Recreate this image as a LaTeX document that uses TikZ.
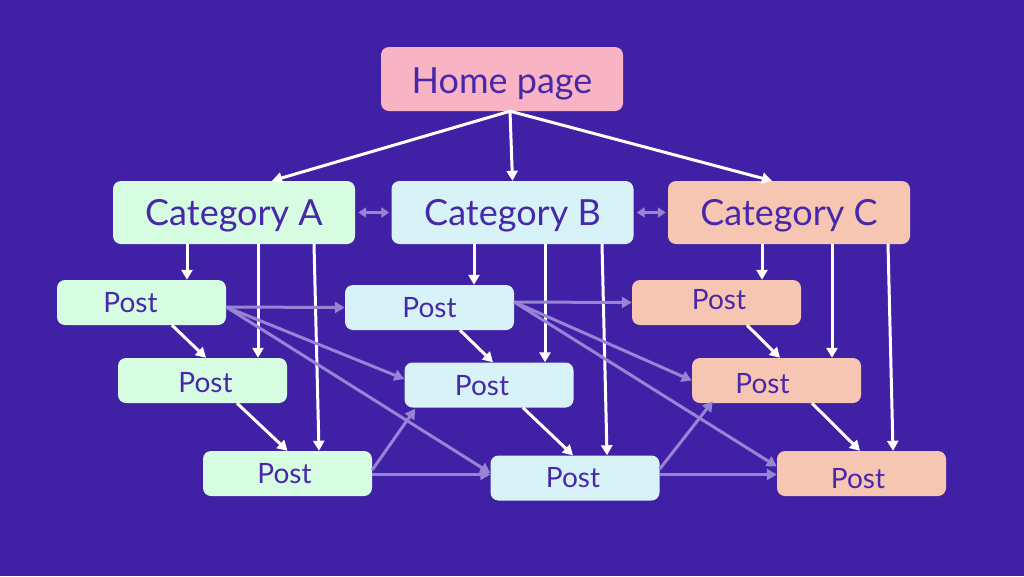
\documentclass[tikz,border=0pt]{standalone}
\usepackage{fontspec}
\setmainfont{Lato}
\usetikzlibrary{arrows.meta,calc}
\definecolor{bgc}{RGB}{64,32,165}
\definecolor{txtc}{RGB}{72,40,170}
\definecolor{homec}{RGB}{248,180,196}
\definecolor{grnc}{RGB}{214,252,226}
\definecolor{bluc}{RGB}{216,243,248}
\definecolor{pchc}{RGB}{247,198,178}
\definecolor{faintc}{RGB}{150,132,212}
\newcommand\offtxt[3]{\makebox[0pt]{\hspace*{#1}\raisebox{#2}{#3}}}
\tikzset{
  box/.style={rounded corners=8pt, text=txtc, inner sep=0pt},
  big/.style={box, minimum width=242pt, minimum height=63pt, text height=26pt, text depth=0pt, font=\fontsize{36}{36}\selectfont},
  post/.style={box, minimum width=169pt, minimum height=45pt, text height=20pt, text depth=0pt, font=\fontsize{28}{28}\selectfont},
  strong/.style={draw=white, line width=3pt, -{Triangle[width=11pt,length=10pt]}},
  faint/.style={draw=faintc, line width=3pt, -{Triangle[width=11pt,length=10pt]}},
  faintb/.style={draw=faintc, line width=3pt, {Triangle[width=10pt,length=8pt]}-{Triangle[width=10pt,length=8pt]}}
}
\begin{document}
\begin{tikzpicture}[x=1pt,y=-1pt]
\fill[bgc] (0,0) rectangle (1024,576);
\useasboundingbox (0,0) rectangle (1024,576);
% nodes
\node[big, fill=homec, minimum height=64pt] (home) at (502,79) {\offtxt{0pt}{-1pt}{Home page}};
\node[big, fill=grnc] (catA) at (234,212.5) {Category A};
\node[big, fill=bluc] (catB) at (512.5,212.5) {Category B};
\node[big, fill=pchc] (catC) at (789,212.5) {Category C};
\node[post, fill=grnc] (pA1) at (141.5,302.5) {\offtxt{-22pt}{0pt}{Post}};
\node[post, fill=grnc] (pA2) at (202.5,380.5) {\offtxt{6pt}{-1.5pt}{Post}};
\node[post, fill=grnc] (pA3) at (287.5,473.5) {\offtxt{-6pt}{0pt}{Post}};
\node[post, fill=bluc] (pB1) at (429.5,307.5) {Post};
\node[post, fill=bluc] (pB2) at (489,385) {\offtxt{-14pt}{0pt}{Post}};
\node[post, fill=bluc] (pB3) at (575,478) {\offtxt{-4pt}{1pt}{Post}};
\node[post, fill=pchc] (pC1) at (716.5,302.5) {\offtxt{5pt}{3.5pt}{Post}};
\node[post, fill=pchc] (pC2) at (776.5,380.5) {\offtxt{-28pt}{-3pt}{Post}};
\node[post, fill=pchc] (pC3) at (861.5,473.5) {\offtxt{-7pt}{-5pt}{Post}};
% home to categories
\draw[strong] ([xshift=8pt]home.south) -- ([xshift=38pt]catA.north);
\draw[strong] ([xshift=8pt]home.south) -- (catB.north);
\draw[strong] ([xshift=8pt]home.south) -- ([xshift=-17pt]catC.north);
% category links
\draw[faintb, shorten <=3pt, shorten >=2pt] (catA.east) -- (catB.west);
\draw[faintb, shorten <=3pt, shorten >=2pt] (catB.east) -- (catC.west);
% category to posts
\draw[strong] ([xshift=-47pt]catA.south) -- ([xshift=45.5pt]pA1.north);
\draw[strong] ([xshift=24pt]catA.south) -- ([xshift=55.5pt]pA2.north);
\draw[strong] ([xshift=80pt]catA.south) -- ([xshift=31.5pt]pA3.north);
\draw[strong] ([xshift=-38.5pt]catB.south) -- ([xshift=44.5pt]pB1.north);
\draw[strong] ([xshift=32.5pt]catB.south) -- ([xshift=56pt]pB2.north);
\draw[strong] ([xshift=89.5pt]catB.south) -- ([xshift=32pt]pB3.north);
\draw[strong] ([xshift=-27pt]catC.south) -- ([xshift=45.5pt]pC1.north);
\draw[strong] ([xshift=43pt]catC.south) -- ([xshift=55.5pt]pC2.north);
\draw[strong] ([xshift=99pt]catC.south) -- ([xshift=31.5pt]pC3.north);
% post chains
\draw[strong] ([xshift=30.5pt]pA1.south) -- ([xshift=3.5pt]pA2.north);
\draw[strong] ([xshift=34.5pt]pA2.south) -- (pA3.north);
\draw[strong] ([xshift=30.5pt]pB1.south) -- ([xshift=4pt]pB2.north);
\draw[strong] ([xshift=34pt]pB2.south) -- ([xshift=-2pt]pB3.north);
\draw[strong] ([xshift=30.5pt]pC1.south) -- ([xshift=3.5pt]pC2.north);
\draw[strong] ([xshift=35.5pt]pC2.south) -- ([xshift=-1.5pt]pC3.north);
% cross links
\draw[faint] ([yshift=-4.5pt]pA1.east) -- (pB1.west);
\draw[faint] ([yshift=-4.5pt]pA1.east) -- ([yshift=6pt]pB2.west);
\draw[faint] ([yshift=-4.5pt]pA1.east) -- ([yshift=5pt]pB3.west);
\draw[faint] ([yshift=5.5pt]pB1.east) -- (pC1.west);
\draw[faint] ([yshift=5.5pt]pB1.east) -- (pC2.west);
\draw[faint] ([yshift=5.5pt]pB1.east) -- ([yshift=7pt]pC3.west);
\draw[faint] ([yshift=3.5pt]pA3.east) -- ([xshift=11pt,yshift=-1pt]pB2.south west);
\draw[faint] ([yshift=-1pt]pA3.east) -- ([yshift=3.5pt]pB3.west);
\draw[faint] ([yshift=9pt]pB3.east) -- ([xshift=21pt,yshift=2pt]pC2.south west);
\draw[faint] ([yshift=3.5pt]pB3.east) -- ([yshift=-1pt]pC3.west);
\end{tikzpicture}
\end{document}
